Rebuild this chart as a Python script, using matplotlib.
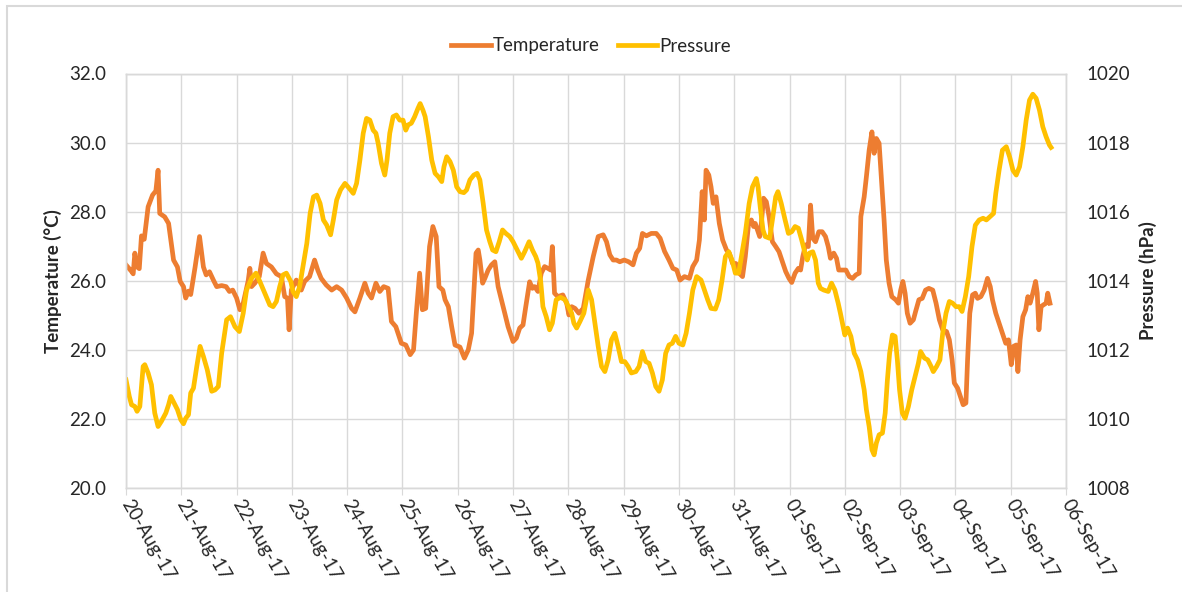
import numpy as np
import matplotlib
matplotlib.use("Agg")
import matplotlib.pyplot as plt
import matplotlib.dates as mdates
import matplotlib.transforms as mtransforms
from matplotlib.patches import Rectangle

plt.rcParams['font.family'] = ['Lato', 'DejaVu Sans']
plt.rcParams['font.size'] = 13.5

# days since 20-Aug-17 00:00 and readings
temp_days = [0.00, 0.10, 0.13, 0.16, 0.20, 0.24, 0.28, 0.33, 0.40, 0.48, 0.54, 0.58, 0.61, 0.70, 0.77,
             0.86, 0.93, 0.98, 1.04, 1.08, 1.13, 1.17, 1.25, 1.33, 1.40, 1.45, 1.51, 1.58, 1.64, 1.73,
             1.81, 1.87, 1.93, 2.00, 2.06, 2.12, 2.21, 2.24, 2.27, 2.33, 2.41, 2.48, 2.54, 2.63, 2.72,
             2.81, 2.87, 2.92, 2.95, 2.99, 3.08, 3.17, 3.23, 3.32, 3.41, 3.47, 3.53, 3.62, 3.72, 3.81,
             3.90, 3.99, 4.08, 4.14, 4.23, 4.32, 4.38, 4.44, 4.52, 4.59, 4.66, 4.74, 4.80, 4.88, 4.98,
             5.06, 5.14, 5.20, 5.25, 5.31, 5.36, 5.42, 5.49, 5.55, 5.61, 5.66, 5.73, 5.77, 5.83, 5.89,
             5.95, 6.04, 6.12, 6.19, 6.25, 6.29, 6.33, 6.37, 6.40, 6.45, 6.49, 6.55, 6.61, 6.67, 6.73,
             6.79, 6.85, 6.91, 7.00, 7.06, 7.12, 7.18, 7.23, 7.30, 7.35, 7.39, 7.45, 7.51, 7.57, 7.63,
             7.68, 7.71, 7.75, 7.81, 7.90, 7.97, 8.01, 8.06, 8.12, 8.19, 8.27, 8.36, 8.45, 8.54, 8.63,
             8.69, 8.75, 8.81, 8.87, 8.93, 9.01, 9.09, 9.17, 9.23, 9.29, 9.34, 9.41, 9.50, 9.59, 9.66,
             9.74, 9.82, 9.89, 9.96, 10.02, 10.10, 10.19, 10.25, 10.32, 10.37, 10.42, 10.46, 10.49, 10.54,
             10.58, 10.62, 10.67, 10.73, 10.79, 10.86, 10.91, 10.97, 11.03, 11.09, 11.15, 11.20, 11.26,
             11.31, 11.35, 11.38, 11.43, 11.46, 11.49, 11.53, 11.58, 11.63, 11.69, 11.75, 11.81, 11.87,
             11.93, 11.99, 12.04, 12.10, 12.16, 12.20, 12.24, 12.29, 12.34, 12.38, 12.42, 12.47, 12.53,
             12.59, 12.65, 12.70, 12.74, 12.80, 12.85, 12.89, 12.95, 13.02, 13.08, 13.14, 13.20, 13.26,
             13.29, 13.35, 13.39, 13.44, 13.49, 13.53, 13.57, 13.62, 13.67, 13.71, 13.75, 13.80, 13.85,
             13.92, 13.97, 14.01, 14.05, 14.09, 14.13, 14.18, 14.24, 14.28, 14.34, 14.40, 14.46, 14.52,
             14.59, 14.65, 14.71, 14.77, 14.84, 14.89, 14.94, 14.98, 15.04, 15.10, 15.14, 15.19, 15.22,
             15.26, 15.31, 15.36, 15.40, 15.46, 15.52, 15.58, 15.63, 15.67, 15.73, 15.79, 15.85, 15.91,
             15.96, 16.01, 16.05, 16.10, 16.13, 16.17, 16.22, 16.27, 16.31, 16.35, 16.40, 16.45, 16.48,
             16.51, 16.55, 16.59, 16.64, 16.67, 16.71]
temperature = [26.46, 26.27, 26.20, 26.80, 26.40, 26.35, 27.30, 27.20, 28.14, 28.48, 28.60, 29.20, 27.95, 27.85, 27.66,
               26.60, 26.40, 25.98, 25.83, 25.50, 25.70, 25.60, 26.40, 27.28, 26.40, 26.17, 26.26, 26.02, 25.83, 25.86,
               25.83, 25.69, 25.73, 25.50, 25.16, 25.35, 26.00, 26.36, 25.83, 25.93, 26.12, 26.80, 26.50, 26.40, 26.20,
               26.12, 25.54, 25.50, 24.58, 25.73, 26.02, 25.73, 25.98, 26.12, 26.60, 26.30, 26.07, 25.88, 25.73, 25.83,
               25.73, 25.50, 25.20, 25.10, 25.50, 25.93, 25.64, 25.50, 25.93, 25.69, 25.83, 25.78, 24.82, 24.67, 24.19,
               24.14, 23.86, 24.00, 25.06, 26.22, 25.16, 25.20, 26.99, 27.57, 27.28, 25.83, 25.73, 25.45, 25.25, 24.67,
               24.14, 24.08, 23.76, 24.00, 24.48, 25.64, 26.80, 26.89, 26.60, 25.93, 26.07, 26.31, 26.46, 26.55, 25.83,
               25.45, 25.06, 24.67, 24.24, 24.34, 24.63, 24.72, 25.25, 25.97, 25.78, 25.83, 25.69, 26.22, 26.41, 26.36,
               26.31, 26.99, 25.64, 25.54, 25.59, 25.35, 25.01, 25.25, 25.20, 25.06, 25.20, 26.02, 26.70, 27.28, 27.33,
               27.13, 26.75, 26.60, 26.60, 26.55, 26.60, 26.55, 26.46, 26.80, 26.94, 27.37, 27.30, 27.37, 27.37, 27.23,
               26.85, 26.60, 26.36, 26.31, 26.02, 26.12, 26.07, 26.41, 26.60, 27.18, 28.58, 27.76, 29.20, 29.06,
               28.72, 28.24, 28.43, 27.66, 27.18, 26.89, 26.80, 26.50, 26.50, 26.22, 26.12, 26.70, 27.66,
               27.76, 27.57, 27.66, 27.42, 27.28, 27.66, 28.39, 28.29, 27.86, 27.13, 26.99, 26.84, 26.55,
               26.27, 26.07, 25.95, 26.22, 26.36, 26.31, 26.70, 27.04, 26.99, 28.19, 27.23, 27.13, 27.42,
               27.42, 27.28, 26.99, 26.65, 26.80, 26.65, 26.31, 26.31, 26.31, 26.12, 26.07, 26.17, 26.22,
               27.86, 28.43, 29.01, 29.78, 30.31, 29.69, 30.12, 29.98, 28.72, 27.76, 26.60, 25.93, 25.54,
               25.45, 25.35, 25.73, 25.98, 25.64, 25.06, 24.77, 24.87, 25.11, 25.45, 25.49, 25.73, 25.78,
               25.73, 25.35, 24.87, 24.58, 24.53, 24.29, 23.71, 23.04, 22.89, 22.60, 22.41, 22.46, 23.71,
               25.06, 25.59, 25.64, 25.49, 25.54, 25.73, 26.07, 25.83, 25.45, 25.06, 24.77, 24.48, 24.19,
               24.29, 23.57, 24.10, 24.14, 23.37, 24.29, 24.96, 25.16, 25.54, 25.35, 25.64, 25.98, 25.64,
               24.58, 25.25, 25.30, 25.35, 25.64, 25.35]

pres_days = [0.00, 0.06, 0.10, 0.16, 0.20, 0.25, 0.31, 0.34, 0.40, 0.46, 0.52, 0.58, 0.64, 0.72, 0.77,
             0.81, 0.87, 0.93, 0.99, 1.04, 1.08, 1.13, 1.17, 1.22, 1.28, 1.34, 1.40, 1.47, 1.55, 1.61,
             1.67, 1.73, 1.82, 1.89, 1.97, 2.05, 2.12, 2.18, 2.27, 2.35, 2.42, 2.51, 2.60, 2.66, 2.72,
             2.78, 2.84, 2.90, 2.98, 3.02, 3.08, 3.14, 3.20, 3.27, 3.33, 3.39, 3.45, 3.51, 3.57, 3.63,
             3.70, 3.75, 3.81, 3.88, 3.96, 4.04, 4.11, 4.17, 4.23, 4.29, 4.35, 4.41, 4.47, 4.52, 4.56,
             4.62, 4.68, 4.72, 4.77, 4.83, 4.89, 4.95, 5.01, 5.06, 5.10, 5.16, 5.22, 5.28, 5.32, 5.37,
             5.41, 5.47, 5.53, 5.59, 5.65, 5.71, 5.75, 5.80, 5.86, 5.92, 5.98, 6.04, 6.11, 6.16, 6.22,
             6.29, 6.35, 6.40, 6.46, 6.52, 6.58, 6.63, 6.69, 6.75, 6.81, 6.87, 6.94, 7.00, 7.06, 7.15,
             7.21, 7.29, 7.35, 7.41, 7.45, 7.50, 7.54, 7.60, 7.66, 7.71, 7.78, 7.86, 7.94, 8.00, 8.06,
             8.10, 8.15, 8.21, 8.28, 8.36, 8.42, 8.48, 8.54, 8.60, 8.66, 8.72, 8.78, 8.84, 8.90, 8.96,
             9.02, 9.08, 9.14, 9.22, 9.28, 9.34, 9.40, 9.46, 9.52, 9.58, 9.64, 9.70, 9.76, 9.82, 9.88,
             9.94, 10.00, 10.07, 10.13, 10.19, 10.25, 10.32, 10.40, 10.46, 10.52, 10.58, 10.66, 10.72,
             10.78, 10.84, 10.90, 10.96, 11.02, 11.08, 11.14, 11.20, 11.27, 11.33, 11.40, 11.43, 11.47,
             11.52, 11.56, 11.64, 11.69, 11.75, 11.79, 11.85, 11.92, 11.98, 12.04, 12.10, 12.16, 12.22,
             12.28, 12.32, 12.36, 12.42, 12.47, 12.52, 12.56, 12.62, 12.70, 12.76, 12.82, 12.88, 12.92,
             12.97, 13.00, 13.05, 13.11, 13.17, 13.23, 13.29, 13.35, 13.39, 13.44, 13.49, 13.53, 13.57,
             13.62, 13.68, 13.73, 13.77, 13.81, 13.86, 13.91, 13.95, 13.99, 14.04, 14.09, 14.15, 14.21,
             14.27, 14.33, 14.37, 14.44, 14.50, 14.56, 14.60, 14.66, 14.72, 14.77, 14.83, 14.89, 14.95,
             15.01, 15.07, 15.12, 15.18, 15.24, 15.30, 15.36, 15.43, 15.50, 15.56, 15.63, 15.69, 15.73,
             15.79, 15.85, 15.92, 15.98, 16.04, 16.10, 16.16, 16.22, 16.28, 16.34, 16.40, 16.46, 16.52,
             16.58, 16.64, 16.70, 16.73]
pressure = [1011.13, 1010.65, 1010.41, 1010.36, 1010.22, 1010.36, 1011.52, 1011.57, 1011.33, 1010.99, 1010.17, 1009.78, 1009.93, 1010.17, 1010.41,
            1010.65, 1010.46, 1010.27, 1009.98, 1009.86, 1010.02, 1010.12, 1010.75, 1010.89, 1011.52, 1012.10, 1011.81, 1011.42, 1010.80, 1010.84,
            1010.94, 1011.90, 1012.87, 1012.96, 1012.67, 1012.53, 1013.06, 1013.73, 1014.07, 1014.22, 1013.98, 1013.64, 1013.30, 1013.25, 1013.40,
            1013.83, 1014.17, 1014.22, 1013.98, 1013.69, 1013.54, 1013.83, 1014.41, 1015.08, 1015.95, 1016.43, 1016.48, 1016.24, 1015.76, 1015.61,
            1015.33, 1015.76, 1016.34, 1016.63, 1016.82, 1016.67, 1016.53, 1016.82, 1017.49, 1018.27, 1018.70, 1018.65, 1018.36, 1018.27, 1017.98,
            1017.40, 1017.06, 1017.49, 1018.27, 1018.75, 1018.80, 1018.65, 1018.65, 1018.36, 1018.51, 1018.56, 1018.75, 1018.99, 1019.13, 1018.94,
            1018.75, 1018.17, 1017.49, 1017.11, 1017.01, 1016.87, 1017.30, 1017.59, 1017.45, 1017.20, 1016.72, 1016.58, 1016.55, 1016.63, 1016.92,
            1017.06, 1017.11, 1016.92, 1016.24, 1015.47, 1015.13, 1014.89, 1014.84, 1015.13, 1015.47, 1015.37, 1015.28, 1015.13, 1014.94, 1014.65,
            1014.84, 1015.13, 1014.89, 1014.70, 1014.51, 1013.98, 1013.25, 1012.96, 1012.58, 1012.77, 1013.45, 1013.52, 1013.45, 1013.25, 1013.06,
            1012.77, 1012.63, 1012.82, 1013.06, 1013.73, 1013.45, 1012.77, 1012.10, 1011.52, 1011.37, 1011.71, 1012.29, 1012.48, 1012.10, 1011.66,
            1011.66, 1011.52, 1011.33, 1011.37, 1011.52, 1011.95, 1011.66, 1011.61, 1011.33, 1010.94, 1010.80, 1011.13, 1011.90, 1012.14, 1012.19,
            1012.39, 1012.19, 1012.14, 1012.48, 1013.06, 1013.73, 1014.12, 1014.02, 1013.73, 1013.45, 1013.20, 1013.18, 1013.45,
            1014.02, 1014.70, 1014.84, 1014.60, 1014.22, 1014.22, 1014.80, 1015.37, 1016.24, 1016.72, 1016.96, 1016.72, 1016.14,
            1015.47, 1015.28, 1015.23, 1015.76, 1016.43, 1016.58, 1016.24, 1015.76, 1015.37, 1015.42, 1015.57, 1015.52, 1015.18,
            1014.80, 1014.60, 1014.80, 1014.84, 1014.60, 1013.93, 1013.78, 1013.73, 1013.69, 1013.93, 1013.73, 1013.35, 1013.06,
            1012.67, 1012.43, 1012.63, 1012.39, 1011.90, 1011.71, 1011.37, 1010.84, 1010.27, 1009.78, 1009.11, 1008.96, 1009.30,
            1009.54, 1009.59, 1010.17, 1011.13, 1011.90, 1012.43, 1012.39, 1011.71, 1010.84, 1010.17, 1010.02, 1010.36, 1010.84,
            1011.23, 1011.61, 1011.95, 1011.76, 1011.71, 1011.52, 1011.37, 1011.52, 1011.71, 1012.48, 1013.06, 1013.40, 1013.35,
            1013.25, 1013.25, 1013.11, 1013.54, 1014.12, 1014.99, 1015.61, 1015.76, 1015.81, 1015.76, 1015.86, 1015.95, 1016.53,
            1017.20, 1017.78, 1017.88, 1017.59, 1017.20, 1017.06, 1017.30, 1017.88, 1018.65, 1019.23, 1019.40, 1019.28, 1018.94,
            1018.46, 1018.17, 1017.93, 1017.86]

start = np.datetime64('2017-08-20T00:00')
t_temp = start + (np.array(temp_days) * 86400).astype('timedelta64[s]')
t_pres = start + (np.array(pres_days) * 86400).astype('timedelta64[s]')

grid_c = '#D9D9D9'
txt_c = '#262626'

fig = plt.figure(figsize=(11.82, 5.92), dpi=100)
ax1 = fig.add_axes([126/1182, 1 - 488/592, 940/1182, 414.5/592])
ax2 = ax1.twinx()

l1, = ax1.plot(t_temp, temperature, color='#ED7D31', lw=3.4, label='Temperature', solid_joinstyle='round')
l2, = ax2.plot(t_pres, pressure, color='#FFC000', lw=3.4, label='Pressure', solid_joinstyle='round')

ax1.set_xlim(np.datetime64('2017-08-20'), np.datetime64('2017-09-06'))
ax1.set_ylim(20, 32)
ax2.set_ylim(1008, 1020)
ax1.set_yticks(np.arange(20, 32.1, 2))
ax1.set_yticklabels([f'{v:.1f}' for v in np.arange(20, 32.1, 2)])
ax2.set_yticks(np.arange(1008, 1020.1, 2))

ax1.xaxis.set_major_locator(mdates.DayLocator())
ax1.xaxis.set_major_formatter(mdates.DateFormatter('%d-%b-%y'))
ax1.grid(True, color=grid_c, lw=1)
ax1.set_axisbelow(True)

for a in (ax1, ax2):
    for s in a.spines.values():
        s.set_color(grid_c)
        s.set_linewidth(1)
ax1.tick_params(axis='y', length=0, pad=14, colors=txt_c)
ax2.tick_params(axis='y', length=0, pad=15, colors=txt_c)
ax1.tick_params(axis='x', length=5, color=grid_c, pad=1, labelcolor=txt_c)
shift = mtransforms.ScaledTranslation(0.07, 0, fig.dpi_scale_trans)
for lab in ax1.get_xticklabels():
    lab.set_rotation(-60)
    lab.set_ha('left')
    lab.set_va('top')
    lab.set_rotation_mode('anchor')
    lab.set_transform(lab.get_transform() + shift)

ax1.set_ylabel('Temperature (°C)', fontweight='bold', color=txt_c)
ax2.set_ylabel('Pressure (hPa)', fontweight='bold', color=txt_c, rotation=90)
ax1.yaxis.set_label_coords(-0.068, 0.5)
ax2.yaxis.set_label_coords(1.078, 0.5)

fig.legend(handles=[l1, l2], loc='center', bbox_to_anchor=(0.5, 1 - 46/592), ncol=2,
           frameon=False, handlelength=2.1, handletextpad=0.1, columnspacing=1.0,
           labelcolor=txt_c)

fig.patches.append(Rectangle((7/1182, -0.1), 1.2, 1.1 - 6/592, transform=fig.transFigure,
                             fill=False, edgecolor=grid_c, lw=1.5))

fig.savefig('out.png', dpi=100)
